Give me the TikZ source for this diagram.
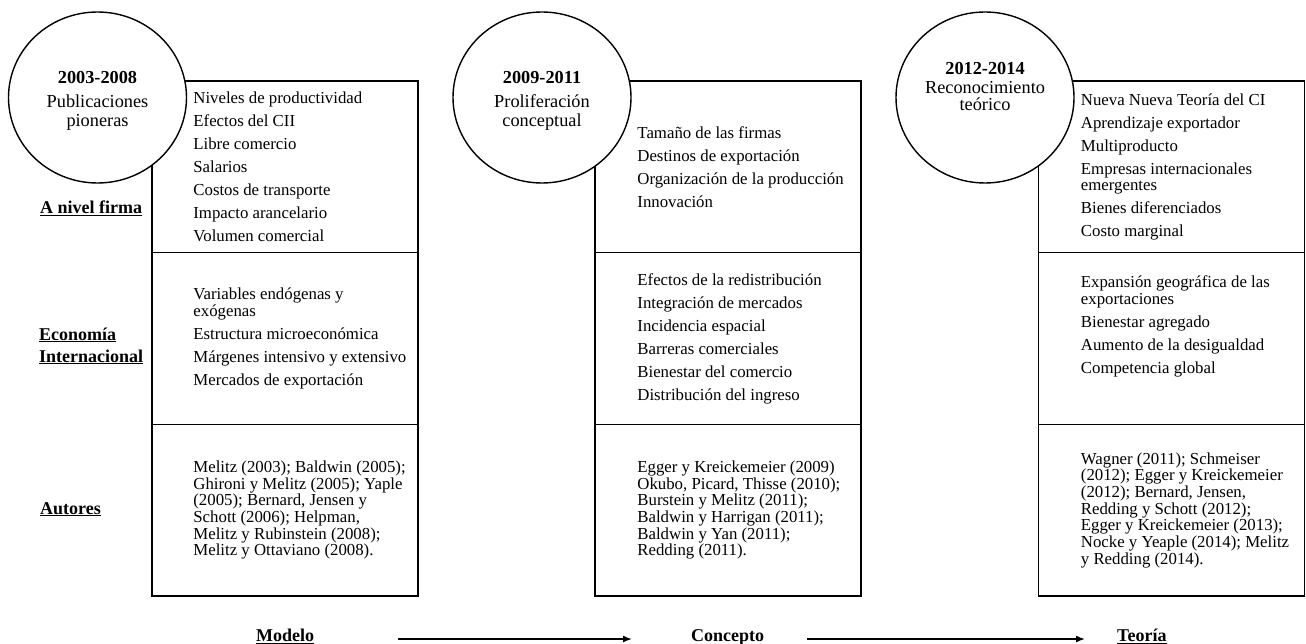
\documentclass[tikz,border=0pt]{standalone}
\usepackage{fontspec}
\setmainfont{Liberation Serif}
\usetikzlibrary{arrows.meta,shapes.geometric}
\newcommand{\itm}{\\[6.3pt]}
\tikzset{
  celda/.style={draw, line width=1.6pt, minimum width=266pt, minimum height=171.7pt, inner sep=0pt},
  fase/.style={ellipse, draw, line width=1.4pt, fill=white, minimum width=178pt, minimum height=171pt, inner sep=0pt},
  fasetxt/.style={align=center, inner sep=0pt, font=\fontsize{18.3}{19}\selectfont},
  lista/.style={anchor=west, align=left, inner sep=0pt, font=\fontsize{16.8}{16.7}\selectfont},
  eje/.style={anchor=base west, align=left, inner sep=0pt, font=\fontsize{18}{22}\selectfont\bfseries},
  flecha/.style={line width=1.5pt, -{Latex[length=9pt,width=7pt]}}
}

\begin{document}
\begin{tikzpicture}[x=1pt, y=-1pt]
\useasboundingbox (0,0) rectangle (1306,644);
%cells
\foreach \c/\x in {1/285, 2/728, 3/1171.5}{
	\node[celda] (firma\c) at (\x,166.85) {};
	\node[celda] (econ\c) at (\x,338.5) {};
	\node[celda] (aut\c) at (\x,510.15) {};
	}
%phases
\node[fase] (fase1) at (97.5,97.5) {};
\node[fase] (fase2) at (542,97.5) {};
\node[fase] (fase3) at (985,97.5) {};
\node[fasetxt] (periodo1) at ([yshift=-3pt]fase1.center) {\textbf{2003-2008}\\[5pt]Publicaciones\\pioneras};
\node[fasetxt] (periodo2) at ([yshift=-3pt]fase2.center) {\textbf{2009-2011}\\[5pt]Proliferación\\conceptual};
\node[fasetxt, font=\fontsize{18.3}{17}\selectfont] (periodo3) at ([yshift=10.5pt]fase3.center) {\textbf{2012-2014}\\[2pt]Reconocimiento\\teórico};
%row labels
\node[eje] (nfirma) at (40,213.5) {\underline{A nivel firma}};
\node[eje] (neco) at (39,362) {\underline{Economía}\\\underline{Internacional}};
\node[eje] (naut) at (40,514) {\underline{Autores}};
%column 1
\node[lista] (lfirma1) at ([xshift=42pt]firma1.west) {Niveles de productividad\itm Efectos del CII\itm Libre comercio\itm Salarios\itm Costos de transporte\itm Impacto arancelario\itm Volumen comercial};
\node[lista] (lecon1) at ([xshift=42pt]econ1.west) {Variables endógenas y\\exógenas\itm Estructura microeconómica\itm Márgenes intensivo y extensivo\itm Mercados de exportación};
\node[lista] (laut1) at ([xshift=42pt]aut1.west) {Melitz (2003); Baldwin (2005);\\Ghironi y Melitz (2005); Yaple\\(2005); Bernard, Jensen y\\Schott (2006); Helpman,\\Melitz y Rubinstein (2008);\\Melitz y Ottaviano (2008).};
%column 2
\node[lista] (lfirma2) at ([xshift=43pt]firma2.west) {Tamaño de las firmas\itm Destinos de exportación\itm Organización de la producción\itm Innovación};
\node[lista] (lecon2) at ([xshift=43pt]econ2.west) {Efectos de la redistribución\itm Integración de mercados\itm Incidencia espacial\itm Barreras comerciales\itm Bienestar del comercio\itm Distribución del ingreso};
\node[lista] (laut2) at ([xshift=43pt]aut2.west) {Egger y Kreickemeier (2009)\\Okubo, Picard, Thisse (2010);\\Burstein y Melitz (2011);\\Baldwin y Harrigan (2011);\\Baldwin y Yan (2011);\\Redding (2011).};
%column 3
\node[lista] (lfirma3) at ([xshift=43pt]firma3.west) {Nueva Nueva Teoría del CI\itm Aprendizaje exportador\itm Multiproducto\itm Empresas internacionales\\emergentes\itm Bienes diferenciados\itm Costo marginal};
\node[lista] (lecon3) at ([xshift=43pt, yshift=12pt]econ3.west) {Expansión geográfica de las\\exportaciones\itm Bienestar agregado\itm Aumento de la desigualdad\itm Competencia global};
\node[lista] (laut3) at ([xshift=43pt]aut3.west) {Wagner (2011); Schmeiser\\(2012); Egger y Kreickemeier\\(2012); Bernard, Jensen,\\Redding y Schott (2012);\\Egger y Kreickemeier (2013);\\Nocke y Yeaple (2014); Melitz\\y Redding (2014).};
%bottom axis
\node[eje] (modelo) at (256,641.5) {\underline{Modelo}};
\node[eje] (concepto) at (691,641.5) {\underline{Concepto}};
\node[eje] (teoria) at (1117,641.5) {\underline{Teoría}};
\draw[flecha, shorten <=84pt, shorten >=59pt] ([yshift=2.5pt]modelo.base east) -- ([yshift=2.5pt]concepto.base west);
\draw[flecha, shorten <=43pt, shorten >=32pt] ([yshift=2.5pt]concepto.base east) -- ([yshift=2.5pt]teoria.base west);
\end{tikzpicture}
\end{document}
